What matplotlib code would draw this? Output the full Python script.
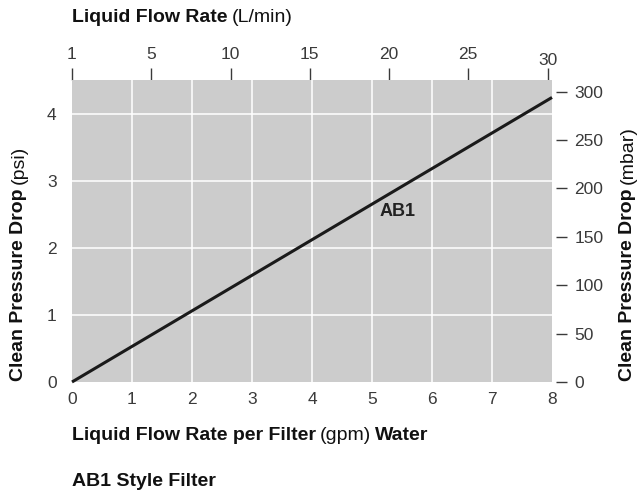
import matplotlib
matplotlib.use("Agg")
import matplotlib.pyplot as plt
from matplotlib.transforms import offset_copy, ScaledTranslation

# ---- data ----
flow_gpm = [0, 8]
pressure_psi = [0, 4.24]
curve_label = "AB1"
x_ticks_gpm = [0, 1, 2, 3, 4, 5, 6, 7, 8]
y_ticks_psi = [0, 1, 2, 3, 4]
top_tick_pos_lpm = [0, 5, 10, 15, 20, 25, 30]
top_tick_labels = ["1", "5", "10", "15", "20", "25", "30"]
right_ticks_mbar = [0, 50, 100, 150, 200, 250, 300]
GPM_TO_LPM = 3.785

W, H = 639, 492
fig = plt.figure(figsize=(W / 100, H / 100), dpi=100)
fig.patch.set_facecolor("white")

L, R, T, B = 72, 552, 80, 382
ax = fig.add_axes([L / W, 1 - B / H, (R - L) / W, (B - T) / H])
ax.set_facecolor("#cccccc")
ax.set_xlim(0, 8)
ax.set_ylim(0, 4.5)
for s in ax.spines.values():
    s.set_visible(False)

TFAM = ["Liberation Sans", "DejaVu Sans"]
TSIZE = 12.5
tcol = "#3a3a3a"

ax.tick_params(axis="x", length=0, pad=7)
ax.tick_params(axis="y", length=0, pad=11)
ax.set_xticks(x_ticks_gpm)
ax.set_yticks(y_ticks_psi)
ax.set_xticklabels([str(v) for v in x_ticks_gpm], family=TFAM, size=TSIZE, color=tcol)
ax.set_yticklabels([str(v) for v in y_ticks_psi], family=TFAM, size=TSIZE, color=tcol)

for v in x_ticks_gpm[1:-1]:
    ax.axvline(v, color="white", lw=1.1, zorder=1)
for v in y_ticks_psi[1:]:
    ax.axhline(v, color="white", lw=1.1, zorder=1)

ax.plot(flow_gpm, pressure_psi, color="#1a1a1a", lw=2.2, zorder=3,
        solid_capstyle="butt", clip_on=False)
ax.text(5.42, 2.54, curve_label, ha="center", va="center", fontsize=13,
        family=["Liberation Sans Narrow", "Liberation Sans"], weight="bold",
        color="#222222", zorder=4)

# top axis (L/min)
axt = ax.twiny()
axt.set_xlim(0, 8 * GPM_TO_LPM)
for s in axt.spines.values():
    s.set_visible(False)
axt.tick_params(axis="x", direction="out", length=8.6, width=1.0, colors=tcol, pad=4)
axt.set_xticks(top_tick_pos_lpm)
axt.set_xticklabels(top_tick_labels, family=TFAM, size=TSIZE, color=tcol)
lbls = axt.get_xticklabels()
lbls[-1].set_transform(lbls[-1].get_transform() + ScaledTranslation(0, -4 / 72, fig.dpi_scale_trans))

# right axis (mbar)
axr = ax.twinx()
axr.set_ylim(0, 312)
axr.spines["right"].set_position(("outward", 3))
for s in axr.spines.values():
    s.set_visible(False)
axr.tick_params(axis="y", direction="out", length=8, width=1.0, colors=tcol, pad=5)
axr.set_yticks(right_ticks_mbar)
axr.set_yticklabels([str(v) for v in right_ticks_mbar], family=TFAM, size=TSIZE, color=tcol)
axt.set_zorder(0)
axr.set_zorder(0)
ax.set_zorder(1)

fig.canvas.draw()
renderer = fig.canvas.get_renderer()

lab_font = ["Liberation Sans", "DejaVu Sans"]
LS = 14


def mixed(x_px, y_px, parts, rotation=0):
    off = 0.0
    for txt, weight in parts:
        if rotation == 0:
            tr = offset_copy(fig.transFigure, fig, x=off, y=0, units="dots")
            t = fig.text(x_px / W, 1 - y_px / H, txt, transform=tr, ha="left",
                         va="center", fontsize=LS, family=lab_font, weight=weight,
                         color="#111111")
            off += t.get_window_extent(renderer).width + 4
        else:
            tr = offset_copy(fig.transFigure, fig, x=0, y=off, units="dots")
            t = fig.text(x_px / W, 1 - y_px / H, txt, transform=tr, ha="center",
                         va="bottom", rotation=90, fontsize=LS, family=lab_font,
                         weight=weight, color="#111111", rotation_mode="default")
            off += t.get_window_extent(renderer).height + 4


mixed(72, 18, [("Liquid Flow Rate", "bold"), ("(L/min)", "normal")])
mixed(72, 436, [("Liquid Flow Rate per Filter", "bold"), ("(gpm)", "normal"),
                ("Water", "bold")])
mixed(72, 482, [("AB1 Style Filter", "bold")])
mixed(19, 381, [("Clean Pressure Drop", "bold"), ("(psi)", "normal")], rotation=90)
mixed(628, 381, [("Clean Pressure Drop", "bold"), ("(mbar)", "normal")], rotation=90)

fig.savefig("out.png", dpi=100)
